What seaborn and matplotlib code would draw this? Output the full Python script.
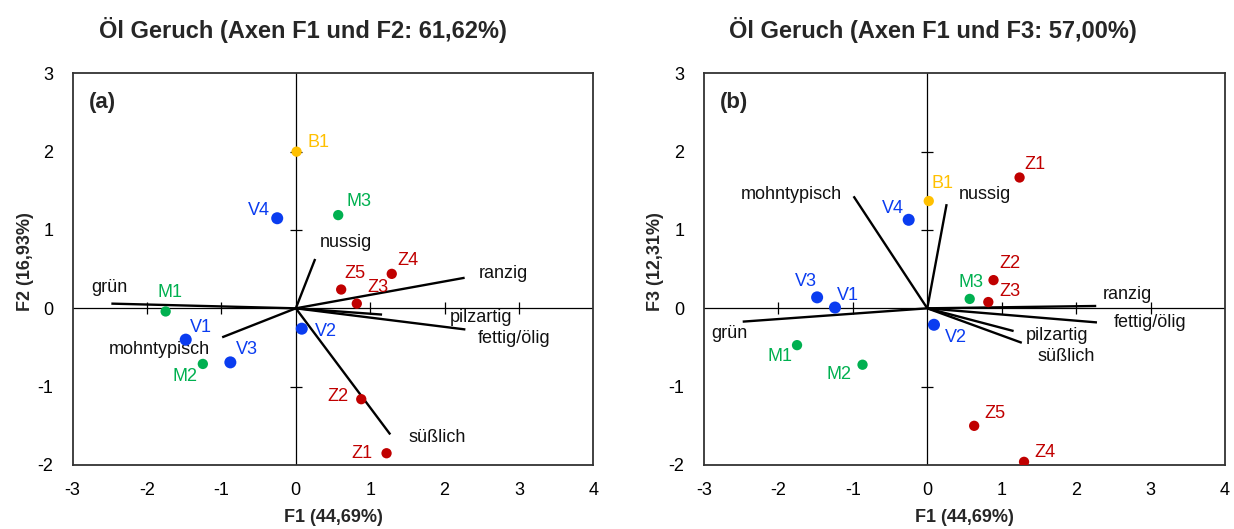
import numpy as np
import pandas as pd
import seaborn as sns
import matplotlib.pyplot as plt

# --- observations (PCA scores) ---
obs = ["B1", "V1", "V2", "V3", "V4", "M1", "M2", "M3", "Z1", "Z2", "Z3", "Z4", "Z5"]
group = ["B", "V", "V", "V", "V", "M", "M", "M", "Z", "Z", "Z", "Z", "Z"]
f1_a = [0.01, -1.48, 0.08, -0.88, -0.25, -1.75, -1.25, 0.57, 1.22, 0.88, 0.82, 1.29, 0.61]
f2_a = [2.00, -0.40, -0.26, -0.69, 1.15, -0.04, -0.71, 1.19, -1.85, -1.16, 0.06, 0.44, 0.24]
f1_b = [0.02, -1.24, 0.09, -1.48, -0.25, -1.75, -0.87, 0.57, 1.24, 0.89, 0.82, 1.30, 0.63]
f3_b = [1.37, 0.01, -0.21, 0.14, 1.13, -0.47, -0.72, 0.12, 1.67, 0.36, 0.08, -1.96, -1.50]

# --- attribute loadings (biplot vectors) ---
attrs = ["grün", "mohntypisch", "nussig", "ranzig", "pilzartig", "fettig/ölig", "süßlich"]
vec_f1 = [-2.48, -0.99, 0.26, 2.27, 1.16, 2.28, 1.27]
vec_f2 = [0.06, -0.37, 0.63, 0.39, -0.08, -0.27, -1.61]
vec_f3 = [-0.17, 1.43, 1.33, 0.03, -0.29, -0.18, -0.44]

titles = ["Öl Geruch (Axen F1 und F2: 61,62%)", "Öl Geruch (Axen F1 und F3: 57,00%)"]
xlab = "F1 (44,69%)"
ylabs = ["F2 (16,93%)", "F3 (12,31%)"]
tags = ["(a)", "(b)"]
xticks = [-3, -2, -1, 0, 1, 2, 3, 4]
yticks = [-2, -1, 0, 1, 2, 3]

palette = {"B": "#FFC000", "V": "#0A3CF0", "M": "#00B050", "Z": "#C00000"}
sizes = {"B": 55, "V": 75, "M": 55, "Z": 55}

# label anchor positions (data units) for each panel
obs_lab = [
    {"B1": (0.30, 2.12), "V1": (-1.28, -0.24), "V2": (0.41, -0.30), "V3": (-0.66, -0.52),
     "V4": (-0.50, 1.25), "M1": (-1.69, 0.20), "M2": (-1.49, -0.87), "M3": (0.85, 1.36),
     "Z1": (0.89, -1.85), "Z2": (0.56, -1.12), "Z3": (1.11, 0.27), "Z4": (1.51, 0.61),
     "Z5": (0.80, 0.44)},
    {"B1": (0.21, 1.59), "V1": (-1.06, 0.17), "V2": (0.39, -0.37), "V3": (-1.63, 0.34),
     "V4": (-0.46, 1.28), "M1": (-1.98, -0.62), "M2": (-1.18, -0.84), "M3": (0.59, 0.33),
     "Z1": (1.45, 1.84), "Z2": (1.11, 0.57), "Z3": (1.11, 0.21), "Z4": (1.58, -1.84),
     "Z5": (0.91, -1.34)},
]
vec_lab = [
    {"grün": (-2.50, 0.26), "mohntypisch": (-1.83, -0.52), "nussig": (0.67, 0.84),
     "ranzig": (2.79, 0.44), "pilzartig": (2.49, -0.12), "fettig/ölig": (2.93, -0.39),
     "süßlich": (1.90, -1.65)},
    {"grün": (-2.66, -0.32), "mohntypisch": (-1.82, 1.45), "nussig": (0.78, 1.45),
     "ranzig": (2.69, 0.18), "pilzartig": (1.74, -0.35), "fettig/ölig": (2.99, -0.18),
     "süßlich": (1.87, -0.62)},
]

sns.set_theme(style="white")
plt.rcParams["font.family"] = ["Liberation Sans", "DejaVu Sans"]

fig = plt.figure(figsize=(12.34, 5.29), dpi=100)
axes = [fig.add_axes([0.0589, 0.121, 0.4219, 0.7404]),
        fig.add_axes([0.5705, 0.121, 0.4222, 0.7404])]

scores = [pd.DataFrame({"obs": obs, "grp": group, "x": f1_a, "y": f2_a}),
          pd.DataFrame({"obs": obs, "grp": group, "x": f1_b, "y": f3_b})]
loads = [pd.DataFrame({"attr": attrs, "x": vec_f1, "y": vec_f2}),
         pd.DataFrame({"attr": attrs, "x": vec_f1, "y": vec_f3})]

title_x = [302.5 / 1234, 932.5 / 1234]
ylab_x = [25 / 1234, 656 / 1234]

for i, ax in enumerate(axes):
    df = scores[i]
    ld = loads[i]
    ax.set_xlim(-3, 4)
    ax.set_ylim(-2, 3)

    # zero axes with crossing tick marks
    ax.axhline(0, color="black", lw=0.9, zorder=1)
    ax.axvline(0, color="black", lw=0.9, zorder=1)
    inner_x = [t for t in xticks if t not in (0, xticks[0], xticks[-1])]
    inner_y = [t for t in yticks if t not in (0, yticks[0], yticks[-1])]
    ax.plot(inner_x, [0] * len(inner_x), ls="none", marker="|", ms=8, mew=0.9,
            color="black", zorder=1)
    ax.plot([0] * len(inner_y), inner_y, ls="none", marker="_", ms=8, mew=0.9,
            color="black", zorder=1)

    # attribute vectors
    for _, r in ld.iterrows():
        ax.plot([0, r["x"]], [0, r["y"]], color="black", lw=1.7, zorder=2,
                solid_capstyle="butt")
        lx, ly = vec_lab[i][r["attr"]]
        ax.text(lx, ly, r["attr"], ha="center", va="center", fontsize=13,
                color="#111111", zorder=4)

    # observation scores
    for g in ["B", "V", "M", "Z"]:
        sub = df[df["grp"] == g]
        sns.scatterplot(data=sub, x="x", y="y", color=palette[g], s=sizes[g],
                        edgecolor="none", linewidth=0, ax=ax, zorder=5, legend=False)
    for _, r in df.iterrows():
        lx, ly = obs_lab[i][r["obs"]]
        ax.text(lx, ly, r["obs"], ha="center", va="center", fontsize=13,
                color=palette[r["grp"]], zorder=6)

    ax.text(0.031, 0.925, tags[i], transform=ax.transAxes, fontsize=16,
            fontweight="bold", ha="left", va="center")

    ax.set_xticks(xticks)
    ax.set_yticks(yticks)
    ax.set_xticklabels([str(t) for t in xticks])
    ax.set_yticklabels([str(t) for t in yticks])
    ax.tick_params(axis="both", length=0, labelsize=13, colors="black")
    ax.tick_params(axis="x", pad=12)
    ax.tick_params(axis="y", pad=14)
    ax.set_xlabel("")
    ax.set_ylabel("")
    for sp in ax.spines.values():
        sp.set_visible(True)
        sp.set_color("#333333")
        sp.set_linewidth(1.3)

    fig.text(title_x[i], 1 - 30 / 529, titles[i], ha="center", va="center",
             fontsize=17, fontweight="bold")
    fig.text(ax.get_position().x0 + ax.get_position().width / 2, 1 - 517 / 529, xlab,
             ha="center", va="center", fontsize=13, fontweight="bold")
    fig.text(ylab_x[i], 1 - 262 / 529, ylabs[i], ha="center", va="center",
             rotation=90, fontsize=13, fontweight="bold")

fig.savefig("out.png", dpi=100)
